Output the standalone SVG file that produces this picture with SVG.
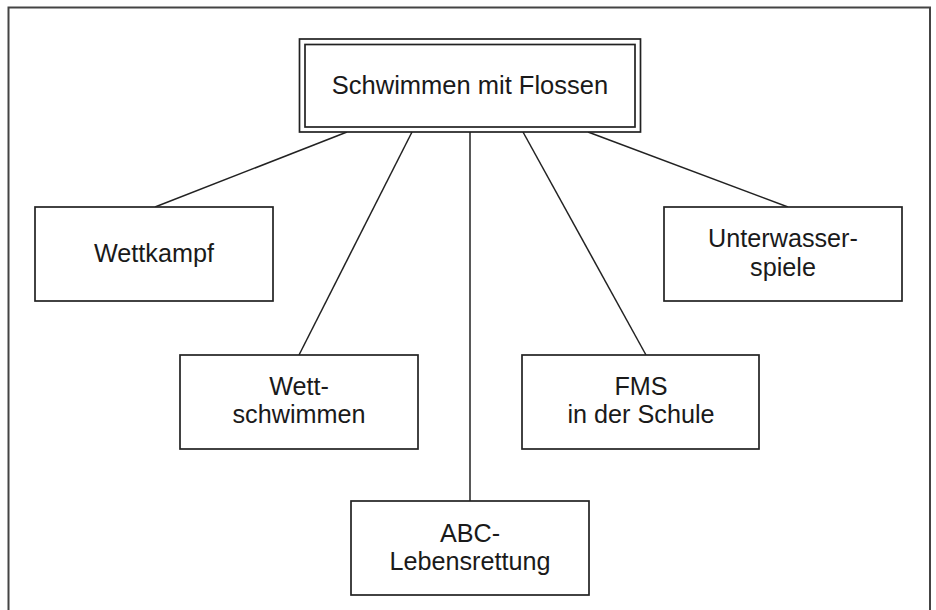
<svg xmlns="http://www.w3.org/2000/svg" width="936" height="610" viewBox="0 0 936 610">
<style>
  .box { fill: #fff; stroke: #222; stroke-width: 1.7; }
  .frame { fill: none; stroke: #444; stroke-width: 2; }
  .conn line { stroke: #222; stroke-width: 1.5; }
  text { font-family: "Liberation Sans", Arial, sans-serif; font-size: 25.2px; fill: #1a1a1a; text-anchor: middle; }
  .title { font-size: 25.5px; }
</style>
<rect width="936" height="610" fill="#fff"/>
<path class="frame" d="M8.5,615 V7.5 H930 V615"/>
<g id="connectors" class="conn">
  <line x1="347" y1="132" x2="155" y2="207"/>
  <line x1="412" y1="132" x2="299" y2="355"/>
  <line x1="470" y1="132" x2="470" y2="501"/>
  <line x1="523" y1="132" x2="646" y2="355"/>
  <line x1="588" y1="132" x2="788" y2="207"/>
</g>
<g id="root">
  <rect class="box" x="299.5" y="39" width="341" height="93"/>
  <rect class="box" x="305" y="44.5" width="330" height="82.5"/>
  <text class="title" x="470" y="94">Schwimmen mit Flossen</text>
</g>
<g id="wettkampf">
  <rect class="box" x="35" y="207" width="238" height="94"/>
  <text x="154" y="262">Wettkampf</text>
</g>
<g id="unterwasserspiele">
  <rect class="box" x="664" y="207" width="238" height="94"/>
  <text x="783" y="247">Unterwasser-</text>
  <text x="783" y="276">spiele</text>
</g>
<g id="wettschwimmen">
  <rect class="box" x="180" y="355" width="238" height="94"/>
  <text x="299" y="395">Wett-</text>
  <text x="299" y="423">schwimmen</text>
</g>
<g id="fms">
  <rect class="box" x="522" y="355" width="237" height="94"/>
  <text x="641" y="395">FMS</text>
  <text x="641" y="423">in der Schule</text>
</g>
<g id="abc">
  <rect class="box" x="351" y="501" width="238" height="94"/>
  <text x="470" y="542">ABC-</text>
  <text x="470" y="570">Lebensrettung</text>
</g>
</svg>
